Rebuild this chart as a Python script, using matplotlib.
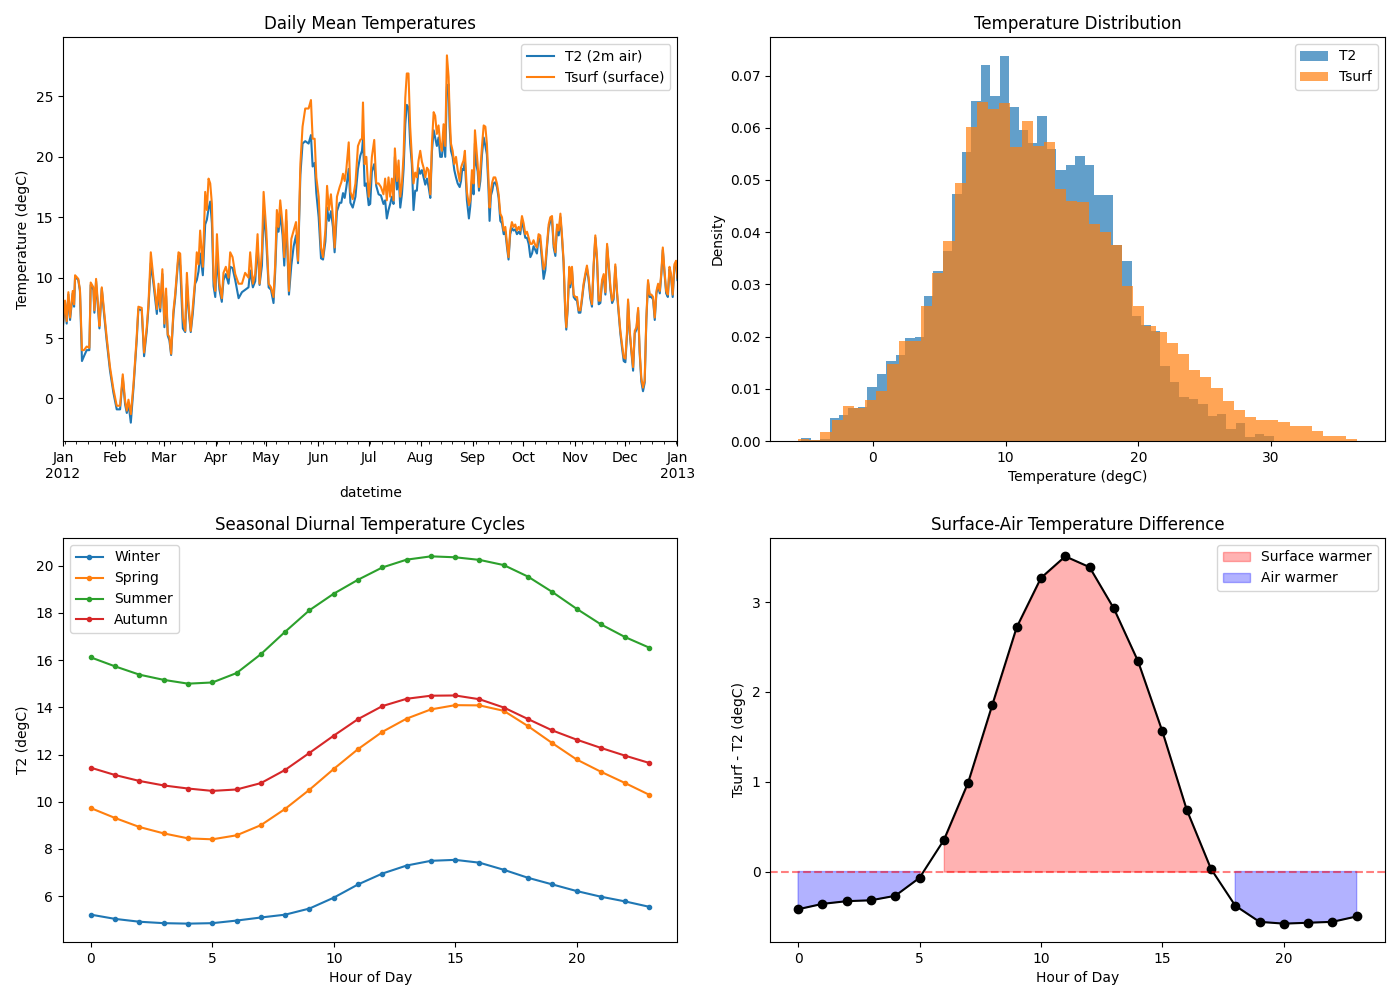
import numpy as np
import matplotlib
matplotlib.use("Agg")
import matplotlib.pyplot as plt
import matplotlib.dates as mdates
from matplotlib.ticker import FuncFormatter, MultipleLocator

# ---- daily means (day of year 2012) ----
day = [
    0.0, 1.2, 2.2, 3.2, 4.2, 5.8, 6.6, 7.2, 9.1, 10.1, 11.3, 12.5, 14.1, 15.7, 16.5, 18.1, 18.7, 19.7,
    21.1, 21.7, 23.1, 24.1, 26.0, 28.0, 30.0, 32.0, 34.0, 35.6, 37.0, 38.0, 39.0, 40.4, 42.0, 43.9,
    44.9, 46.9, 48.3, 49.9, 50.9, 52.3, 53.9, 55.9, 56.9, 57.9, 59.2, 60.4, 61.4, 62.4, 63.4, 64.4,
    65.8, 66.8, 68.8, 69.8, 71.4, 72.8, 73.8, 74.8, 76.1, 77.3, 78.7, 79.7, 80.7, 81.7, 83.3, 84.7,
    85.7, 86.7, 87.7, 88.7, 89.7, 90.7, 91.7, 93.2, 94.6, 95.6, 97.0, 98.6, 99.6, 101.0, 102.6, 104.6,
    106.6, 108.5, 110.5, 111.5, 113.1, 114.5, 115.9, 117.1, 118.5, 119.5, 121.1, 122.5, 123.9, 125.4,
    126.4, 127.4, 128.4, 129.4, 130.8, 131.8, 133.0, 134.6, 136.0, 137.4, 138.8, 140.0, 141.4, 142.7,
    144.3, 146.3, 147.7, 148.7, 149.9, 150.9, 152.3, 153.7, 154.9, 156.3, 157.3, 158.4, 159.6, 160.8,
    161.8, 163.2, 164.8, 165.8, 166.8, 167.8, 168.8, 170.2, 171.2, 172.6, 174.2, 175.7, 177.1, 178.1,
    178.7, 179.7, 180.7, 182.1,
    183.0, 184.0, 185.4, 186.6, 188.0, 189.4, 190.9, 191.9, 192.9, 193.9, 194.9, 195.9, 196.9, 197.7,
    198.9, 199.9, 200.9, 201.9, 202.9, 203.9, 204.8, 205.8, 206.8, 207.8, 208.8, 209.8, 210.8, 211.8,
    212.8, 213.8, 214.8, 215.8, 216.8, 217.8, 218.8, 219.8, 220.8, 221.7, 222.7, 223.7, 224.7, 225.7,
    226.7, 227.7, 228.7, 229.7, 230.3, 231.1, 232.1, 233.1, 234.1, 235.1, 236.3, 237.1, 237.8, 238.6,
    239.4, 240.6, 241.8, 242.6, 243.6, 244.6, 245.4, 246.2, 247.0, 247.8, 248.6, 249.6, 250.6, 251.6,
    252.5, 253.5, 254.1, 254.9, 255.7, 256.5, 257.5, 258.5, 259.5, 260.5, 261.5, 262.5, 263.5, 264.5,
    265.4, 266.4, 267.4, 268.4, 269.4, 270.4, 271.4, 272.4, 273.4, 274.4, 275.4, 276.4, 277.4, 278.4,
    279.4, 280.3, 281.3, 282.3, 283.3, 284.3, 285.3, 286.3, 287.3, 288.3, 289.3, 290.3, 291.3, 292.3,
    293.3, 294.3, 295.3, 296.3, 297.2, 298.2, 299.2, 299.8, 300.6, 301.6, 302.2, 303.2, 304.2, 305.2,
    306.2, 307.2, 308.2, 309.2, 310.1, 311.1, 312.1, 313.1, 314.1, 315.1, 316.1, 317.1, 318.1, 319.1,
    320.1, 321.1, 322.1, 323.1, 324.1, 325.1, 326.1, 327.1, 328.0, 329.0, 330.0, 331.0, 332.0, 333.0,
    334.0, 335.0, 336.0, 336.6, 337.6, 338.6, 339.6, 340.6, 341.6, 342.6, 343.5, 344.5, 345.5, 346.5,
    347.5, 348.5, 349.5, 350.5, 351.5, 352.5, 353.5, 354.5, 355.5, 356.5, 357.3, 358.3, 359.3, 360.3,
    361.3, 362.2, 363.2, 364.2, 365.2, 366.0,
]
tsurf_daily = [
    6.2, 8.1, 6.4, 8.8, 6.7, 8.9, 7.8, 10.2, 9.9, 9.0, 4.0, 4.0, 4.3, 4.2, 9.6, 9.2, 7.3, 9.9,
    7.3, 6.0, 9.2, 7.8, 5.1, 2.6, 0.8, -0.6, -0.6, 2.0, -0.2, -1.0, -0.1, -1.3, 1.2, 5.1,
    7.6, 7.5, 3.8, 5.9, 7.8, 12.1, 9.9, 7.4, 9.5, 7.5, 10.7, 6.2, 9.1, 5.3, 5.1, 3.7,
    7.3, 8.6, 12.1, 12.0, 6.7, 5.6, 10.4, 7.8, 5.6, 7.5, 9.8, 12.1, 11.1, 13.9, 10.9, 17.1,
    15.6, 18.2, 17.8, 16.1, 10.0, 8.9, 13.6, 9.5, 8.3, 10.4, 10.9, 10.0, 12.1, 11.7, 10.3, 9.5,
    9.5, 10.4, 10.0, 12.1, 9.5, 10.3, 13.6, 9.5, 12.2, 17.1, 13.9, 9.5, 9.2, 8.4,
    11.1, 15.6, 14.2, 16.4, 14.4, 11.7, 15.6, 8.9, 13.2, 13.9, 14.6, 11.4, 19.4, 22.5,
    24.0, 24.0, 24.7, 21.5, 21.5, 18.3, 16.7, 12.5, 11.7, 13.9, 17.6, 15.6, 16.9, 15.0,
    12.5, 16.7, 17.5, 17.9, 18.6, 18.0, 19.0, 21.2, 17.1, 16.5, 17.8, 20.9, 21.4, 21.5,
    24.5, 19.4, 20.0, 16.7,
    17.9, 20.0, 21.4, 17.8, 17.8, 17.5, 16.9, 18.2, 16.4, 18.3, 16.7, 18.2, 16.4, 20.7,
    18.0, 19.7, 16.7, 17.8, 20.2, 24.9, 26.9, 26.9, 22.5, 20.0, 17.8, 18.7, 18.3, 19.7,
    20.5, 19.6, 19.1, 18.3, 19.1, 18.9, 16.9, 21.2, 23.7, 23.4, 21.9, 22.6, 21.1, 20.5,
    22.7, 20.9, 28.4, 26.6, 23.6, 21.1, 20.5, 19.4, 20.0, 18.9, 18.0, 19.1, 19.4, 19.7,
    20.5, 17.1, 16.0, 16.4, 18.9, 17.8, 22.2, 20.8, 19.4, 17.5, 18.9, 20.9, 22.6, 22.5,
    21.1, 18.0, 15.8, 17.2, 17.9, 18.3, 18.3, 17.8, 16.9, 15.3, 15.0, 13.9, 14.2, 12.8,
    11.7, 13.9, 14.6, 14.2, 14.4, 13.9, 14.2, 13.9, 15.1, 14.5, 13.6, 13.8, 13.3, 12.8,
    12.8, 13.1, 12.7, 12.5, 13.6, 13.5, 12.0, 10.7, 11.1, 12.8, 14.4, 15.0, 15.1, 12.8,
    12.1, 14.4, 13.9, 15.3, 13.6, 11.4, 7.3, 5.9, 7.5, 10.9, 9.5, 10.9, 8.6, 8.4,
    8.4, 7.3, 7.3, 8.4, 9.5, 10.3, 11.0, 10.0, 8.6, 7.8, 11.1, 13.5, 11.7, 8.1,
    8.1, 9.8, 10.3, 8.8, 12.8, 11.1, 9.2, 8.1, 8.4, 11.1, 8.9, 7.3, 5.6, 4.5,
    3.4, 3.3, 5.6, 8.2, 5.6, 4.0, 2.6, 5.6, 5.9, 7.5, 4.0, 1.7, 0.9, 1.5,
    6.7, 9.8, 8.6, 8.6, 8.4, 6.7, 8.9, 9.5, 8.9, 10.6, 12.5, 10.6, 8.9, 8.6,
    10.9, 10.3, 8.6, 11.1, 11.4, 10.0,
]
t2_daily = [
    6.0, 7.9, 6.2, 8.6, 6.5, 8.7, 7.6, 10.1, 9.8, 8.9, 3.1, 3.5, 4.0, 4.0, 9.4, 9.0, 7.1, 9.7,
    7.0, 5.8, 9.1, 7.5, 4.8, 2.3, 0.5, -0.9, -0.9, 1.7, -0.5, -1.2, -0.4, -2.0, 0.9, 4.8,
    7.4, 7.3, 3.5, 5.6, 7.5, 11.2, 9.5, 7.0, 9.0, 7.2, 10.3, 5.9, 8.5, 5.2, 4.8, 3.6,
    7.0, 8.3, 11.8, 11.0, 5.8, 5.5, 9.5, 7.3, 5.5, 7.0, 9.5, 9.8, 10.5, 12.0, 10.2, 14.4,
    14.8, 15.7, 16.3, 14.5, 9.3, 8.4, 11.8, 9.0, 8.0, 9.8, 10.3, 9.5, 10.9, 10.8, 9.8, 8.3,
    8.8, 9.0, 9.2, 10.6, 9.2, 9.7, 12.8, 9.4, 11.0, 15.5, 13.0, 9.2, 9.0, 7.9,
    10.5, 14.2, 13.8, 15.3, 13.5, 11.0, 14.7, 8.6, 11.0, 12.6, 13.5, 11.2, 18.5, 21.1,
    21.3, 21.1, 21.8, 19.2, 19.5, 17.0, 15.0, 11.6, 11.5, 13.0, 15.8, 14.7, 15.5, 14.2,
    12.1, 15.5, 16.2, 16.2, 17.0, 16.6, 17.5, 19.0, 16.2, 15.8, 16.7, 19.0, 20.1, 20.5,
    21.5, 17.6, 17.8, 16.0,
    16.1, 18.8, 19.4, 17.6, 16.9, 16.8, 16.1, 16.4, 14.9, 15.6, 16.1, 16.7, 16.1, 20.0,
    17.3, 18.6, 15.8, 16.9, 19.0, 22.7, 24.3, 24.1, 21.1, 19.4, 15.6, 17.2, 17.2, 19.1,
    18.6, 18.9, 18.3, 17.7, 18.2, 17.5, 16.6, 20.5, 22.2, 21.6, 20.9, 21.6, 20.0, 20.0,
    21.6, 20.0, 25.8, 26.0, 22.5, 20.5, 20.0, 18.9, 18.3, 17.8, 17.5, 18.0, 19.0, 18.9,
    19.7, 16.4, 14.9, 15.9, 18.0, 16.9, 21.1, 19.4, 18.8, 17.2, 18.0, 20.2, 21.6, 20.9,
    20.2, 17.2, 14.7, 16.8, 17.2, 17.8, 17.9, 17.5, 16.6, 14.7, 14.5, 13.6, 13.8, 12.5,
    11.5, 13.6, 14.1, 13.9, 14.0, 13.6, 13.8, 13.6, 14.8, 14.0, 13.3, 13.3, 12.8, 11.7,
    12.0, 12.6, 12.3, 12.0, 13.3, 13.0, 11.5, 9.9, 10.6, 12.5, 14.1, 14.7, 14.8, 12.5,
    11.8, 14.2, 13.5, 15.0, 13.4, 11.2, 7.0, 5.7, 7.3, 10.6, 9.2, 10.6, 8.4, 8.2,
    8.1, 7.1, 7.1, 8.2, 9.3, 10.1, 10.8, 9.8, 8.3, 7.6, 10.9, 13.3, 11.5, 7.8,
    7.9, 9.6, 10.1, 8.6, 12.6, 10.9, 9.0, 7.9, 8.2, 10.9, 8.7, 7.1, 5.4, 4.2,
    3.1, 3.0, 5.3, 8.0, 5.4, 3.8, 2.3, 5.4, 5.7, 7.3, 3.8, 1.4, 0.6, 1.3,
    6.5, 9.6, 8.4, 8.4, 8.2, 6.5, 8.7, 9.3, 8.7, 10.4, 12.3, 10.4, 8.7, 8.4,
    10.7, 10.1, 8.4, 10.9, 11.2, 9.8,
]

# ---- histogram densities (50 bins per series) ----
t2_range = (-5.40, 30.20)
t2_density = [
    0.0006, 0.0002, 0.0004, 0.0044, 0.0050, 0.0063, 0.0065, 0.0104, 0.0129, 0.0154,
    0.0165, 0.0198, 0.0200, 0.0278, 0.0326, 0.0363, 0.0474, 0.0553, 0.0651, 0.0720,
    0.0660, 0.0737, 0.0639, 0.0595, 0.0570, 0.0622, 0.0560, 0.0520, 0.0528, 0.0545,
    0.0528, 0.0472, 0.0472, 0.0376, 0.0345, 0.0240, 0.0223, 0.0211, 0.0144, 0.0113,
    0.0084, 0.0081, 0.0071, 0.0048, 0.0052, 0.0023, 0.0035, 0.0008, 0.0013, 0.0010,
]
tsurf_range = (-5.63, 36.45)
tsurf_density = [
    0.0003, 0.0002, 0.0017, 0.0040, 0.0067, 0.0063, 0.0079, 0.0096, 0.0148, 0.0192,
    0.0192, 0.0259, 0.0322, 0.0384, 0.0495, 0.0601, 0.0649, 0.0636, 0.0647, 0.0564,
    0.0612, 0.0566, 0.0572, 0.0482, 0.0459, 0.0457, 0.0416, 0.0401, 0.0376, 0.0296,
    0.0259, 0.0221, 0.0209, 0.0188, 0.0167, 0.0136, 0.0123, 0.0102, 0.0077, 0.0060,
    0.0046, 0.0040, 0.0040, 0.0036, 0.0029, 0.0029, 0.0019, 0.0010, 0.0010, 0.0004,
]

# ---- diurnal cycles ----
hours = list(range(24))
seasons = ["Winter", "Spring", "Summer", "Autumn"]
winter = [5.22, 5.04, 4.92, 4.86, 4.84, 4.86, 4.97, 5.10, 5.22, 5.48, 5.94, 6.50,
          6.96, 7.30, 7.50, 7.54, 7.42, 7.12, 6.78, 6.50, 6.22, 5.98, 5.78, 5.55]
spring = [9.73, 9.31, 8.93, 8.66, 8.45, 8.41, 8.58, 9.01, 9.70, 10.51, 11.39, 12.23,
          12.96, 13.52, 13.91, 14.09, 14.08, 13.85, 13.20, 12.48, 11.79, 11.27, 10.79, 10.29]
summer = [16.11, 15.73, 15.38, 15.16, 15.00, 15.05, 15.45, 16.25, 17.20, 18.11, 18.81, 19.40,
          19.92, 20.25, 20.39, 20.35, 20.24, 20.02, 19.53, 18.88, 18.17, 17.51, 16.97, 16.52]
autumn = [11.44, 11.13, 10.88, 10.69, 10.56, 10.46, 10.52, 10.79, 11.35, 12.07, 12.80, 13.50,
          14.05, 14.36, 14.49, 14.50, 14.34, 13.99, 13.50, 13.02, 12.63, 12.28, 11.95, 11.64]

# ---- Tsurf - T2 by hour ----
diff = [-0.42, -0.36, -0.33, -0.32, -0.27, -0.07, 0.35, 0.99, 1.86, 2.72, 3.27, 3.51,
        3.39, 2.93, 2.34, 1.56, 0.69, 0.03, -0.38, -0.56, -0.58, -0.57, -0.56, -0.50]


fig, axes = plt.subplots(2, 2, figsize=(14, 10), dpi=100)
plt.subplots_adjust(left=0.045, right=0.989, top=0.963, bottom=0.058, wspace=0.151, hspace=0.24)

# Daily means
ax = axes[0, 0]
start = mdates.date2num(np.datetime64("2012-01-01"))
x = start + np.array(day)
ax.plot(x, t2_daily, label="T2 (2m air)")
ax.plot(x, tsurf_daily, label="Tsurf (surface)")
ax.set_xlim(start, mdates.date2num(np.datetime64("2013-01-01")))
ax.xaxis.set_major_locator(mdates.MonthLocator())
ax.xaxis.set_minor_locator(mdates.WeekdayLocator(byweekday=mdates.MO))


def month_label(v, pos=None):
    d = mdates.num2date(v)
    if d.month == 1:
        return d.strftime("%b\n%Y")
    return d.strftime("%b")


ax.xaxis.set_major_formatter(FuncFormatter(month_label))
for lab in ax.get_xticklabels():
    lab.set_ha("center")
ax.set_title("Daily Mean Temperatures")
ax.set_ylabel("Temperature (degC)")
ax.set_xlabel("datetime")
ax.legend(loc="upper right")

# Distribution
ax = axes[0, 1]
t2_edges = np.linspace(t2_range[0], t2_range[1], len(t2_density) + 1)
ts_edges = np.linspace(tsurf_range[0], tsurf_range[1], len(tsurf_density) + 1)
ax.hist(0.5 * (t2_edges[:-1] + t2_edges[1:]), bins=t2_edges, weights=t2_density,
        alpha=0.7, label="T2")
ax.hist(0.5 * (ts_edges[:-1] + ts_edges[1:]), bins=ts_edges, weights=tsurf_density,
        alpha=0.7, label="Tsurf")
ax.set_title("Temperature Distribution")
ax.set_xlabel("Temperature (degC)")
ax.set_ylabel("Density")
ax.legend(loc="upper right")

# Seasonal diurnal cycles
ax = axes[1, 0]
for name, vals in zip(seasons, [winter, spring, summer, autumn]):
    ax.plot(hours, vals, marker="o", markersize=3, label=name)
ax.set_title("Seasonal Diurnal Temperature Cycles")
ax.set_xlabel("Hour of Day")
ax.set_ylabel("T2 (degC)")
ax.legend(loc="upper left")

# Surface-air difference
ax = axes[1, 1]
d = np.array(diff)
ax.plot(hours, d, "k-o")
ax.axhline(0, color="r", linestyle="--", alpha=0.5)
ax.fill_between(hours, d, 0, where=d > 0, color="red", alpha=0.3, label="Surface warmer")
ax.fill_between(hours, d, 0, where=d < 0, color="blue", alpha=0.3, label="Air warmer")
ax.yaxis.set_major_locator(MultipleLocator(1))
ax.set_title("Surface-Air Temperature Difference")
ax.set_xlabel("Hour of Day")
ax.set_ylabel("Tsurf - T2 (degC)")
ax.legend(loc="upper right")

plt.savefig("out.png", dpi=100)
